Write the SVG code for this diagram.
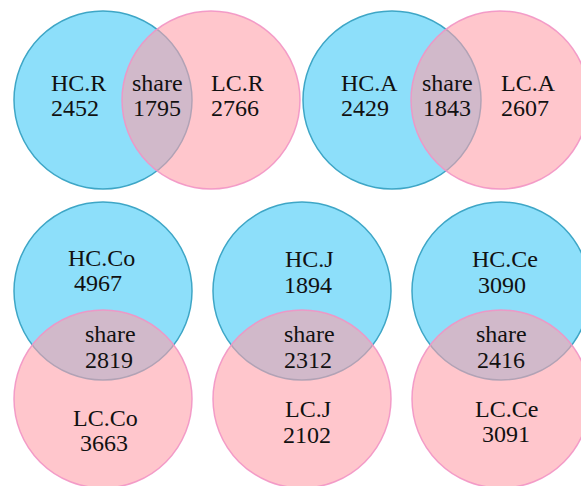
<svg xmlns="http://www.w3.org/2000/svg" width="581" height="486" viewBox="0 0 581 486">
<style>
.hc{fill:#8ddffa;stroke:#3ea6c6;stroke-width:1.5}
.lc{fill:rgb(255,160,170);fill-opacity:0.6;stroke:#f294c4;stroke-width:1.5;stroke-opacity:0.9}
.t{font-family:'Liberation Serif','DejaVu Serif',serif;font-size:24px;fill:#111}
</style>
<rect width="581" height="486" fill="#ffffff"/>
<g id="venn-R">
<circle class="hc" cx="103" cy="100" r="89"/>
<circle class="lc" cx="211" cy="100" r="89"/>
<g class="t" font-family="Liberation Serif, serif">
<text x="51" y="91">HC.R</text><text x="51" y="116">2452</text>
<text x="132" y="91">share</text><text x="133" y="116">1795</text>
<text x="211" y="91">LC.R</text><text x="211" y="116">2766</text>
</g>
</g>
<g id="venn-A">
<circle class="hc" cx="392" cy="100" r="89"/>
<circle class="lc" cx="500" cy="100" r="89"/>
<g class="t" font-family="Liberation Serif, serif">
<text x="341" y="91">HC.A</text><text x="341" y="116">2429</text>
<text x="422" y="91">share</text><text x="423" y="116">1843</text>
<text x="501" y="91">LC.A</text><text x="501" y="116">2607</text>
</g>
</g>
<g id="venn-Co">
<circle class="hc" cx="103" cy="291" r="89"/>
<circle class="lc" cx="103" cy="399" r="89"/>
<g class="t" font-family="Liberation Serif, serif">
<text x="68" y="266">HC.Co</text><text x="74" y="291">4967</text>
<text x="85" y="342">share</text><text x="85" y="368">2819</text>
<text x="73" y="426">LC.Co</text><text x="80" y="451">3663</text>
</g>
</g>
<g id="venn-J">
<circle class="hc" cx="302" cy="291" r="89"/>
<circle class="lc" cx="302" cy="399" r="89"/>
<g class="t" font-family="Liberation Serif, serif">
<text x="285" y="267">HC.J</text><text x="284" y="293">1894</text>
<text x="284" y="342">share</text><text x="284" y="368">2312</text>
<text x="285" y="417">LC.J</text><text x="283" y="443">2102</text>
</g>
</g>
<g id="venn-Ce">
<circle class="hc" cx="501" cy="291" r="89"/>
<circle class="lc" cx="501" cy="399" r="89"/>
<g class="t" font-family="Liberation Serif, serif">
<text x="472" y="267">HC.Ce</text><text x="478" y="293">3090</text>
<text x="476" y="342">share</text><text x="477" y="368">2416</text>
<text x="475" y="417">LC.Ce</text><text x="482" y="442">3091</text>
</g>
</g>
<g id="connectors"/>
</svg>
